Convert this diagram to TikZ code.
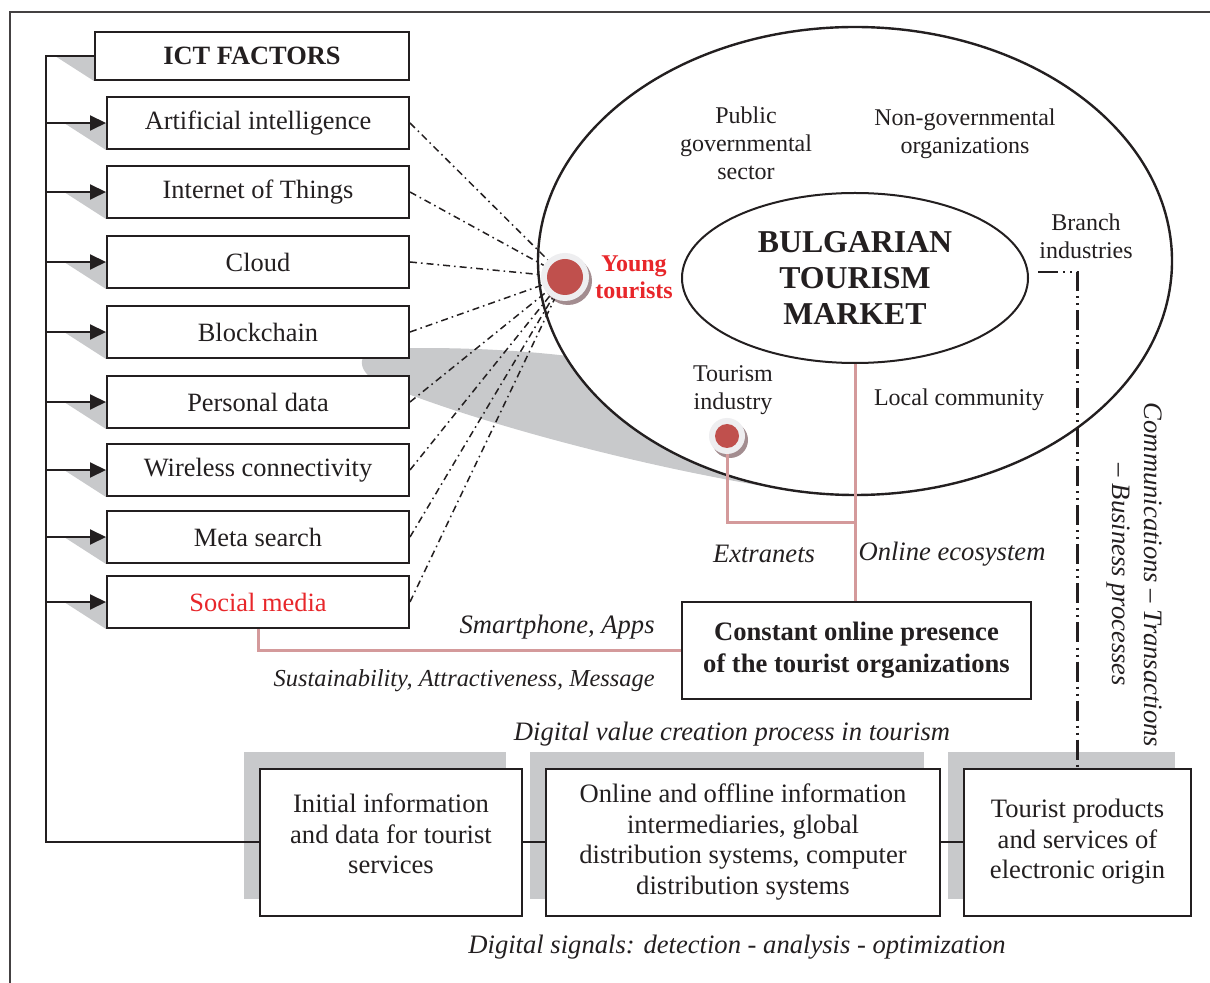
\documentclass[tikz,border=0pt]{standalone}
\usepackage{fontspec}
\setmainfont{Liberation Serif}
\usetikzlibrary{arrows.meta, positioning, shapes.geometric, shadows, backgrounds}

\definecolor{ink}{HTML}{231F20}
\definecolor{shadowgray}{HTML}{C8C9CB}
\definecolor{redtext}{HTML}{E8262A}
\definecolor{dotred}{HTML}{C0504D}
\definecolor{ringgray}{HTML}{EEEEF0}
\definecolor{ringshadow}{HTML}{A38D90}
\definecolor{linkpink}{HTML}{D49A9B}

\tikzset{
  factor/.style={rectangle, draw=ink, line width=1pt, fill=white, text=ink,
    minimum width=151pt, minimum height=26pt, inner sep=0pt,
    font=\fontsize{13.2}{15}\selectfont},
  headbox/.style={factor, minimum width=157pt, minimum height=24pt,
    font=\fontsize{13.2}{15}\selectfont\bfseries},
  stagebox/.style={rectangle, draw=ink, line width=1pt, fill=white, text=ink,
    minimum height=73.5pt, align=center, font=\fontsize{13.3}{15.3}\selectfont,
    drop shadow={shadow xshift=-8pt, shadow yshift=8.5pt, fill=shadowgray, opacity=1}},
  sector/.style={align=center, text=ink, font=\fontsize{12}{14}\selectfont},
  tag/.style={text=ink, inner sep=0pt, font=\fontsize{13.3}{16}\selectfont\itshape},
  feed/.style={draw=ink, line width=1pt, -{Triangle[length=8pt, width=7.5pt]}},
  bus/.style={draw=ink, line width=1pt},
  ictlink/.style={draw=ink, line width=0.75pt, dash pattern=on 3.5pt off 2pt on 0.8pt off 2pt},
  branchlink/.style={draw=ink, line width=1.1pt,
    dash pattern=on 10pt off 2.5pt on 1pt off 2.5pt on 1pt off 2.5pt},
  pinkline/.style={draw=linkpink, line width=1.5pt},
  ring/.style={circle, fill=ringgray, inner sep=0pt,
    drop shadow={shadow xshift=1.5pt, shadow yshift=-2pt, fill=ringshadow, opacity=1}},
  reddot/.style={circle, fill=dotred, inner sep=0pt},
  tip/.style={fill=shadowgray},
}

\begin{document}
\begin{tikzpicture}[x=0.5pt, y=-0.5pt, node distance=7.3pt]
  \useasboundingbox (0,0) rectangle (1210,983);
  \draw[ink!85, line width=0.8pt] (10,983) |- (1210,12);

  % market sphere with its actors
  \node[ellipse, draw=ink, line width=1.2pt, fill=white, minimum width=317pt,
    minimum height=234pt] (sphere) at (855,261) {};
  \node[ellipse, draw=ink, line width=1pt, inner sep=0pt, minimum width=173pt,
    minimum height=85pt, align=center, text=ink,
    font=\fontsize{15.9}{18}\selectfont\bfseries] (market) at (855,278)
    {BULGARIAN\\TOURISM\\MARKET};
  \node[sector] (public) at (746,143) {Public\\governmental\\sector};
  \node[sector] (ngo) at (965,134) {Non-governmental\\organizations};
  \node[sector] (branch) at (1086,236) {Branch\\industries};
  \node[sector] (local) at (959,400) {Local community};
  \node[sector] (tindustry) at (733,390) {Tourism\\industry};

  % ICT factors column
  \node[headbox] (ict) at (252,56) {ICT FACTORS};
  \node[factor] (ai) at (258,123) {Artificial intelligence};
  \node[factor] (iot) at (258,192) {Internet of Things};
  \node[factor] (cloud) at (258,262) {Cloud};
  \node[factor] (chain) at (258,332) {Blockchain};
  \node[factor] (pdata) at (258,402) {Personal data};
  \node[factor] (wless) at (258,470) {Wireless connectivity};
  \node[factor] (meta) at (258,537) {Meta search};
  \node[factor, text=redtext] (socm) at (258,602) {Social media};

  \node[rectangle, draw=ink, line width=1pt, fill=white, text=ink,
    minimum width=174.5pt, minimum height=48.5pt, align=center,
    font=\fontsize{13.3}{16}\selectfont\bfseries] (presence) at (856.5,650.5)
    {Constant online presence\\of the tourist organizations};

  % value chain
  \node[stagebox, minimum width=131pt] (init) at (391,842)
    {Initial information\\and data for tourist\\services\\[-7pt]\mbox{}};
  \node[stagebox, minimum width=197pt, right=11pt of init] (mid)
    {Online and offline information\\intermediaries, global\\distribution systems, computer\\distribution systems};
  \node[stagebox, minimum width=113.5pt, right=11pt of mid] (prod)
    {Tourist products\\and services of\\electronic origin};

  % labels
  \node[tag, anchor=east] (apps) at (655,627) {Smartphone, Apps};
  \node[tag, anchor=east, font=\fontsize{12.2}{14}\selectfont\itshape] (sam) at (655,681)
    {Sustainability, Attractiveness, Message};
  \node[tag] (extranets) at (764,554) {Extranets};
  \node[tag] (ecosys) at (952,554) {Online ecosystem};
  \node[tag] (dvc) at (732,734) {Digital value creation process in tourism};
  \node[tag] (signals) at (737,947) {Digital signals: detection - analysis - optimization};
  \node[tag, rotate=-90, align=center] (flow) at (1134,575)
    {Communications – Transactions\\– Business processes};

  % tourist dots
  \node[ring, minimum size=24pt] (yt) at (565,277) {};
  \node[reddot, minimum size=18pt] (ytcore) at (yt) {};
  \node[align=center, text=redtext, font=\fontsize{12}{13.5}\selectfont\bfseries]
    (ytlabel) at (634,277) {Young\\tourists};
  \node[ring, minimum size=18pt] (ti) at (727,436) {};
  \node[reddot, minimum size=12pt] (ticore) at (ti) {};

  \begin{scope}[on background layer]
    \fill[tip] (610,362) -- (800,492)
      .. controls (640,468) and (470,420) .. (385,385)
      .. controls (355,375) and (355,350) .. (380,349)
      .. controls (450,346) and (540,350) .. (610,362) -- cycle;
    \fill[tip] (ict.west) ++(-39,0) -- (ict.west) -- (ict.south west) -- cycle;
    \fill[tip] (ai.west) ++(-42,0) -- (ai.west) -- (ai.south west) -- cycle;
    \fill[tip] (iot.west) ++(-42,0) -- (iot.west) -- (iot.south west) -- cycle;
    \fill[tip] (cloud.west) ++(-42,0) -- (cloud.west) -- (cloud.south west) -- cycle;
    \fill[tip] (chain.west) ++(-42,0) -- (chain.west) -- (chain.south west) -- cycle;
    \fill[tip] (pdata.west) ++(-42,0) -- (pdata.west) -- (pdata.south west) -- cycle;
    \fill[tip] (wless.west) ++(-42,0) -- (wless.west) -- (wless.south west) -- cycle;
    \fill[tip] (meta.west) ++(-42,0) -- (meta.west) -- (meta.south west) -- cycle;
    \fill[tip] (socm.west) ++(-42,0) -- (socm.west) -- (socm.south west) -- cycle;
  \end{scope}

  % bus and arrows
  \coordinate (buscorner) at (46,842);
  \draw[bus] (ict.west) -| (buscorner) -- (init.west);
  \draw[feed] (buscorner |- ai.west) -- (ai.west);
  \draw[feed] (buscorner |- iot.west) -- (iot.west);
  \draw[feed] (buscorner |- cloud.west) -- (cloud.west);
  \draw[feed] (buscorner |- chain.west) -- (chain.west);
  \draw[feed] (buscorner |- pdata.west) -- (pdata.west);
  \draw[feed] (buscorner |- wless.west) -- (wless.west);
  \draw[feed] (buscorner |- meta.west) -- (meta.west);
  \draw[feed] (buscorner |- socm.west) -- (socm.west);

  \draw[ictlink] (ai.east) -- (yt);
  \draw[ictlink] (iot.east) -- (yt);
  \draw[ictlink] (cloud.east) -- (yt);
  \draw[ictlink] (chain.east) -- (yt);
  \draw[ictlink] (pdata.east) -- (yt);
  \draw[ictlink] (wless.east) -- (yt);
  \draw[ictlink] (meta.east) -- (yt);
  \draw[ictlink] (socm.east) -- (yt);

  \draw[bus, line width=0.75pt] (init) -- (mid);
  \draw[bus, line width=0.75pt] (mid) -- (prod);

  \coordinate (branchend) at (1038,272);
  \draw[branchlink] (branchend) -| (prod.north);

  \coordinate (extra) at (market.south |- 0,523);
  \draw[pinkline] (socm.south) |- (presence.west);
  \draw[pinkline] (market.south) -- (market.south |- presence.north);
  \draw[pinkline] (ti) |- (extra);
\end{tikzpicture}
\end{document}
